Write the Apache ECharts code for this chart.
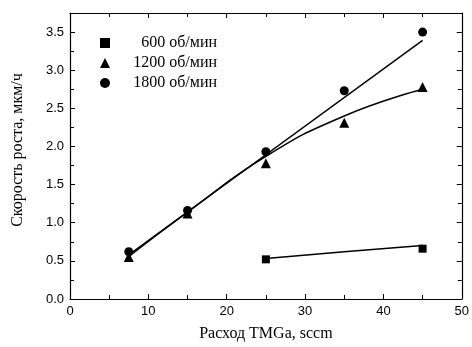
<!DOCTYPE html>
<html>
<head>
<meta charset="utf-8">
<script src="https://cdn.jsdelivr.net/npm/echarts@6/dist/echarts.min.js"></script>
<style>html,body{margin:0;padding:0;background:#fff}#c{width:472px;height:347px}</style>
</head>
<body>
<div id="c"></div>
<script>
// Measured points
const x600 = [25, 45];
const y600 = [0.52, 0.66];
const x1200 = [7.5, 15, 25, 35, 45];
const y1200 = [0.55, 1.12, 1.78, 2.31, 2.78];
const x1800 = [7.5, 15, 25, 35, 45];
const y1800 = [0.62, 1.16, 1.93, 2.73, 3.50];
// Fit curves
const fit600X = [25, 35, 45];
const fit600Y = [0.53, 0.62, 0.70];
const fit1200X = [7.5, 15, 25, 35, 45];
const fit1200Y = [0.56, 1.14, 1.87, 2.40, 2.75];
const fit1800X = [7.5, 45];
const fit1800Y = [0.58, 3.39];
const seriesNames = ['600 об/мин', '1200 об/мин', '1800 об/мин'];
const xTitle = 'Расход TMGa, sccm';
const yTitle = 'Скорость роста, мкм/ч';

const zip = (a, b) => a.map((v, i) => [v, b[i]]);
const sans = 'Liberation Sans';
const serif = 'Liberation Serif';

const axisCommon = {
  axisLine: {show: true, onZero: false, lineStyle: {color: '#000', width: 1.2}},
  axisTick: {show: true, inside: true, length: 5, lineStyle: {color: '#000', width: 1}},
  minorTick: {show: true, splitNumber: 2, length: 4, lineStyle: {color: '#000', width: 1}},
  splitLine: {show: false}
};

const chart = echarts.init(document.getElementById('c'));
chart.setOption({
  animation: false,
  backgroundColor: '#fff',
  grid: {left: 70, right: 10, top: 13, bottom: 47},
  legend: {
    orient: 'vertical', left: 95, top: 30,
    itemWidth: 10, itemHeight: 10, itemGap: 4,
    data: seriesNames,
    formatter: n => '{a|' + n + '}',
    textStyle: {rich: {a: {width: 102, lineHeight: 14, align: 'right', fontFamily: serif, fontSize: 16, color: '#000'}}}
  },
  xAxis: [
    Object.assign({}, axisCommon, {
      type: 'value', min: 0, max: 50, interval: 10, position: 'bottom',
      name: xTitle, nameLocation: 'middle', nameGap: 27,
      nameTextStyle: {fontFamily: serif, fontSize: 16, color: '#000'},
      axisLabel: {fontFamily: sans, fontSize: 13, color: '#000', margin: 6}
    }),
    Object.assign({}, axisCommon, {
      type: 'value', min: 0, max: 50, interval: 10, position: 'top',
      axisLabel: {show: false}
    })
  ],
  yAxis: [
    Object.assign({}, axisCommon, {
      type: 'value', min: 0, max: 3.75, interval: 0.5, position: 'left',
      name: yTitle, nameLocation: 'middle', nameGap: 44,
      nameTextStyle: {fontFamily: serif, fontSize: 16, color: '#000', padding: [0, 0, 0, 12]},
      axisLabel: {fontFamily: sans, fontSize: 13, color: '#000', margin: 6, showMaxLabel: false,
        formatter: v => v.toFixed(1)}
    }),
    Object.assign({}, axisCommon, {
      type: 'value', min: 0, max: 3.75, interval: 0.5, position: 'right',
      axisLabel: {show: false}
    })
  ],
  series: [
    {name: seriesNames[0], type: 'scatter', symbol: 'rect', symbolSize: 8,
      itemStyle: {color: '#000', opacity: 1}, data: zip(x600, y600), z: 3},
    {name: seriesNames[1], type: 'scatter', symbol: 'triangle', symbolSize: 10,
      itemStyle: {color: '#000', opacity: 1}, data: zip(x1200, y1200), z: 3},
    {name: seriesNames[2], type: 'scatter', symbol: 'circle', symbolSize: 9,
      itemStyle: {color: '#000', opacity: 1}, data: zip(x1800, y1800), z: 3},
    {type: 'line', showSymbol: false, lineStyle: {color: '#000', width: 1.5},
      data: zip(fit600X, fit600Y), z: 2},
    {type: 'line', showSymbol: false, smooth: true, lineStyle: {color: '#000', width: 1.5},
      data: zip(fit1200X, fit1200Y), z: 2},
    {type: 'line', showSymbol: false, lineStyle: {color: '#000', width: 1.5},
      data: zip(fit1800X, fit1800Y), z: 2}
  ]
});
</script>
</body>
</html>
